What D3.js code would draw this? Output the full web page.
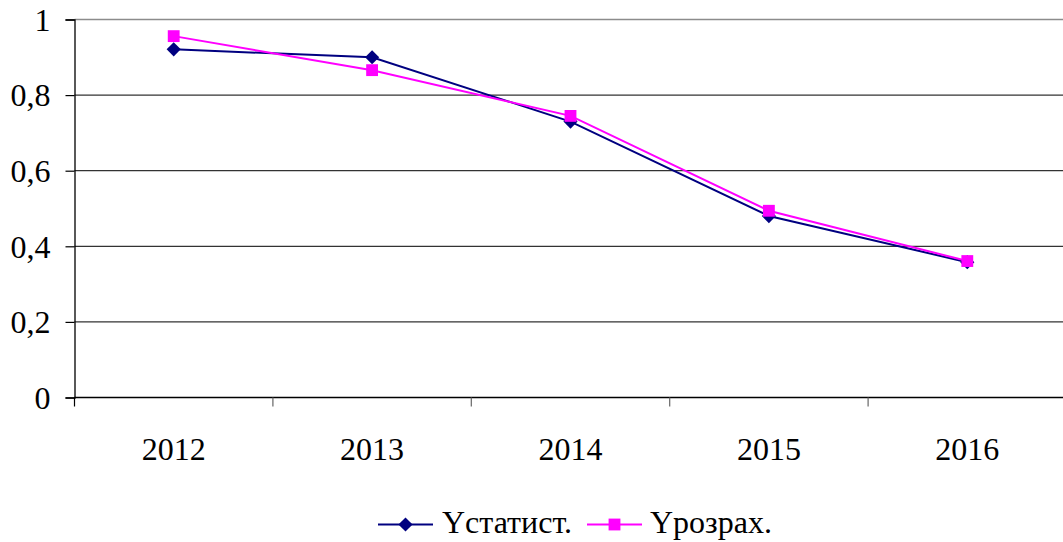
<!DOCTYPE html>
<html>
<head>
<meta charset="utf-8">
<script src="https://cdn.jsdelivr.net/npm/d3@7"></script>
<style>
  html, body { margin: 0; padding: 0; background: #fff; }
  svg { display: block; }
</style>
</head>
<body>
<svg id="chart" width="1063" height="542"></svg>
<script>
const years = ["2012", "2013", "2014", "2015", "2016"];
const yStat = [0.921, 0.900, 0.730, 0.480, 0.358];
const yCalc = [0.956, 0.866, 0.745, 0.494, 0.361];
const yTicks = [0, 0.2, 0.4, 0.6, 0.8, 1];
const seriesNames = ["Yстатист.", "Yрозрах."];
const seriesColors = ["#000080", "#FF00FF"];

const FONT = "'Liberation Serif', 'Times New Roman', Tinos, 'DejaVu Serif', serif";
const FS = "32px";

const svg = d3.select("#chart");
const W = 1063;
const margin = { left: 74.5, top: 19.5, right: -3.5 };
const plotRight = W - margin.right;
const plotBottom = 397.5;

const x = d3.scaleBand().domain(years).range([margin.left, plotRight]).padding(0);
const y = d3.scaleLinear().domain([0, 1]).range([plotBottom, margin.top]);

// horizontal gridlines
svg.append("g")
  .selectAll("line")
  .data(yTicks.filter(v => v > 0))
  .join("line")
  .attr("x1", margin.left).attr("x2", plotRight)
  .attr("y1", d => y(d)).attr("y2", d => y(d))
  .attr("stroke", d => d === 1 ? "#8c8c8c" : "#333")
  .attr("stroke-width", d => d === 1 ? 1.6 : 1.2);

// y axis
const yAxis = d3.axisLeft(y).tickValues(yTicks).tickSize(9).tickPadding(15)
  .tickFormat(d => d === 0 || d === 1 ? String(d) : d3.format(".1f")(d).replace(".", ","));
const gy = svg.append("g").attr("transform", `translate(${margin.left},0)`).call(yAxis);
gy.attr("font-family", null).attr("font-size", null);
gy.select(".domain").attr("stroke", "#000").attr("stroke-width", 1.3);
gy.selectAll(".tick line").attr("stroke", "#000").attr("stroke-width", 1.2);
gy.selectAll(".tick text")
  .style("font-family", FONT).style("font-size", FS)
  .attr("fill", "#000").attr("dy", "0.34em");

// x axis: ticks at category boundaries
const gx = svg.append("g").attr("transform", `translate(0,${plotBottom})`);
gx.append("line").attr("x1", margin.left).attr("x2", plotRight)
  .attr("stroke", "#000").attr("stroke-width", 1.3);
gx.selectAll("line.tk").data(years.map(d => x(d))).join("line").attr("class", "tk")
  .attr("x1", d => d).attr("x2", d => d).attr("y1", 0).attr("y2", 9)
  .attr("stroke", d => d === margin.left ? "#000" : "#666").attr("stroke-width", 1.2);
gx.selectAll("text").data(years).join("text")
  .attr("x", d => x(d) + x.bandwidth() / 2)
  .attr("y", 62)
  .attr("text-anchor", "middle")
  .style("font-family", FONT).style("font-size", FS)
  .attr("fill", "#000")
  .text(d => d);

const cx = d => x(d) + x.bandwidth() / 2;
const line = d3.line().x(d => cx(d.year)).y(d => y(d.v));

// diamond = square turned 45 degrees
const diamond = d3.symbol().type(d3.symbolSquare).size(100);
const square = d3.symbol().type(d3.symbolSquare).size(140);

function drawSeries(values, color, marker, rot) {
  const data = years.map((yr, i) => ({ year: yr, v: values[i] }));
  svg.append("path").datum(data)
    .attr("d", line).attr("fill", "none")
    .attr("stroke", color).attr("stroke-width", 2);
  svg.append("g").selectAll("path").data(data).join("path")
    .attr("transform", d => `translate(${cx(d.year)},${y(d.v)}) rotate(${rot})`)
    .attr("d", marker)
    .attr("fill", color);
}

drawSeries(yStat, seriesColors[0], diamond, 45);
drawSeries(yCalc, seriesColors[1], square, 0);

// legend
const legendY = 524.5;
const legendItems = [
  { name: seriesNames[0], color: seriesColors[0], marker: diamond, rot: 45, x0: 378, tx: 442 },
  { name: seriesNames[1], color: seriesColors[1], marker: square, rot: 0, x0: 587, tx: 650 }
];
const lg = svg.append("g");
legendItems.forEach(it => {
  lg.append("line").attr("x1", it.x0).attr("x2", it.x0 + 55)
    .attr("y1", legendY).attr("y2", legendY)
    .attr("stroke", it.color).attr("stroke-width", 2);
  lg.append("path").attr("d", it.marker)
    .attr("transform", `translate(${it.x0 + 27.5},${legendY}) rotate(${it.rot})`)
    .attr("fill", it.color);
  lg.append("text").attr("x", it.tx).attr("y", 533)
    .style("font-family", FONT).style("font-size", FS)
    .attr("fill", "#000").text(it.name);
});
</script>
</body>
</html>
